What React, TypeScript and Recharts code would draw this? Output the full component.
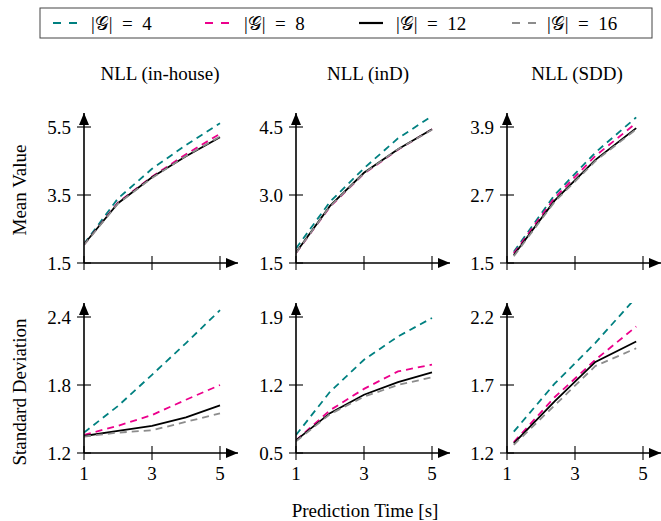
import React from 'react';
import { LineChart, Line, XAxis, YAxis } from 'recharts';

// ---- data ----
const timeSteps = [1, 2, 3, 4, 5];
const timeStepsSDD = [1.2, 2.4, 3.6, 4.8];
const xTicks = [1, 3, 5];
const groupSizes = [4, 8, 12, 16];
const panelTitles = ['NLL (in-house)', 'NLL (inD)', 'NLL (SDD)'];
const rowLabels = ['Mean Value', 'Standard Deviation'];
const xAxisLabel = 'Prediction Time [s]';

// Mean value, in-house
const meanInHouseG4 = [2.06, 3.4, 4.27, 4.97, 5.61];
const meanInHouseG8 = [2.04, 3.28, 4.04, 4.7, 5.3];
const meanInHouseG12 = [2.05, 3.26, 4.02, 4.64, 5.2];
const meanInHouseG16 = [2.03, 3.25, 4.0, 4.65, 5.22];
// Mean value, inD
const meanInDG4 = [1.82, 2.85, 3.59, 4.25, 4.74];
const meanInDG8 = [1.72, 2.74, 3.47, 4.0, 4.45];
const meanInDG12 = [1.73, 2.76, 3.49, 4.01, 4.45];
const meanInDG16 = [1.72, 2.75, 3.48, 4.01, 4.44];
// Mean value, SDD
const meanSDDG4 = [1.7, 2.7, 3.45, 4.07];
const meanSDDG8 = [1.67, 2.65, 3.39, 3.97];
const meanSDDG12 = [1.64, 2.6, 3.32, 3.88];
const meanSDDG16 = [1.62, 2.58, 3.3, 3.86];
// Std deviation, in-house
const stdInHouseG4 = [1.38, 1.615, 1.89, 2.17, 2.46];
const stdInHouseG8 = [1.36, 1.44, 1.535, 1.67, 1.8];
const stdInHouseG12 = [1.35, 1.395, 1.44, 1.515, 1.62];
const stdInHouseG16 = [1.345, 1.38, 1.4, 1.475, 1.55];
// Std deviation, inD
const stdInDG4 = [0.685, 1.13, 1.46, 1.7, 1.89];
const stdInDG8 = [0.63, 0.94, 1.16, 1.34, 1.41];
const stdInDG12 = [0.63, 0.91, 1.1, 1.23, 1.33];
const stdInDG16 = [0.62, 0.9, 1.08, 1.2, 1.28];
// Std deviation, SDD
const stdSDDG4 = [1.357, 1.71, 2.01, 2.345];
const stdSDDG8 = [1.28, 1.61, 1.885, 2.13];
const stdSDDG12 = [1.27, 1.58, 1.87, 2.02];
const stdSDDG16 = [1.26, 1.55, 1.84, 1.97];

// y tick labels per panel
const yTicksMeanInHouse = [1.5, 3.5, 5.5];
const yTicksMeanInD = [1.5, 3.0, 4.5];
const yTicksMeanSDD = [1.5, 2.7, 3.9];
const yTicksStdInHouse = [1.2, 1.8, 2.4];
const yTicksStdInD = [0.5, 1.2, 1.9];
const yTicksStdSDD = [1.2, 1.7, 2.2];

// ---- styles ----
const FONT = "'Liberation Serif', 'Times New Roman', serif";
const FS = 19;
const seriesStyle = [
  { key: 'g4', color: '#008080', dash: '7 5' },
  { key: 'g8', color: '#EC008C', dash: '7 5' },
  { key: 'g12', color: '#000000', dash: undefined },
  { key: 'g16', color: '#8c8c8c', dash: '7 5' },
];

const build = (times: number[], s: number[][]) =>
  times.map((t, i) => ({ t, g4: s[0][i], g8: s[1][i], g12: s[2][i], g16: s[3][i] }));

const panels = [
  { row: 0, col: 0, data: build(timeSteps, [meanInHouseG4, meanInHouseG8, meanInHouseG12, meanInHouseG16]), yTicks: yTicksMeanInHouse },
  { row: 0, col: 1, data: build(timeSteps, [meanInDG4, meanInDG8, meanInDG12, meanInDG16]), yTicks: yTicksMeanInD },
  { row: 0, col: 2, data: build(timeStepsSDD, [meanSDDG4, meanSDDG8, meanSDDG12, meanSDDG16]), yTicks: yTicksMeanSDD },
  { row: 1, col: 0, data: build(timeSteps, [stdInHouseG4, stdInHouseG8, stdInHouseG12, stdInHouseG16]), yTicks: yTicksStdInHouse },
  { row: 1, col: 1, data: build(timeSteps, [stdInDG4, stdInDG8, stdInDG12, stdInDG16]), yTicks: yTicksStdInD },
  { row: 1, col: 2, data: build(timeStepsSDD, [stdSDDG4, stdSDDG8, stdSDDG12, stdSDDG16]), yTicks: yTicksStdSDD },
];

const colAxisX = [84, 296, 507];
const rowArrowTop = [113, 303];
const PLOT = 136; // tick span in px
const EXT_X = 18;
const EXT_Y = 14;
const YW = 55; // y axis width
const XH = 35; // x axis height
const M = { top: 10, right: 4, left: 5, bottom: 5 };
const CW = M.left + YW + PLOT + EXT_X + M.right;
const CH = M.top + PLOT + EXT_Y + XH + M.bottom;

const YTick = (props: any) => {
  const { x, y, payload } = props;
  return (
    <g>
      <line x1={x - 7} x2={x + 7} y1={y} y2={y} stroke="#000" strokeWidth={1.1} />
      <text x={x - 13} y={y} dy="0.35em" textAnchor="end" fontFamily={FONT} fontSize={FS} fill="#000">
        {Number(payload.value).toFixed(1)}
      </text>
    </g>
  );
};

const XTick = (props: any) => {
  const { x, y, payload, showLabel } = props;
  return (
    <g>
      <line x1={x} x2={x} y1={y - 7} y2={y + 7} stroke="#000" strokeWidth={1.1} />
      {showLabel ? (
        <text x={x} y={y + 20} dy="0.35em" textAnchor="middle" fontFamily={FONT} fontSize={FS} fill="#000">
          {payload.value}
        </text>
      ) : null}
    </g>
  );
};

const Panel = ({ p }: { p: (typeof panels)[number] }) => {
  const yMin = p.yTicks[0];
  const yMax = p.yTicks[p.yTicks.length - 1];
  const yTop = yMax + ((yMax - yMin) * EXT_Y) / PLOT;
  const xRight = 5 + (4 * EXT_X) / PLOT;
  const showLabel = p.row === 1;
  return (
    <div
      style={{
        position: 'absolute',
        left: colAxisX[p.col] - M.left - YW,
        top: rowArrowTop[p.row] - M.top,
        width: CW,
        height: CH,
      }}
    >
      <LineChart width={CW} height={CH} data={p.data} margin={M}>
        <XAxis
          dataKey="t"
          type="number"
          domain={[1, xRight]}
          allowDataOverflow
          ticks={xTicks}
          interval={0}
          height={XH}
          tickSize={0}
          tickMargin={0}
          tickLine={false}
          axisLine={{ stroke: '#000', strokeWidth: 1.6, markerEnd: 'url(#arrowHead)' } as any}
          tick={(tp: any) => <XTick {...tp} showLabel={showLabel} />}
        />
        <YAxis
          type="number"
          domain={[yMin, yTop]}
          allowDataOverflow
          ticks={p.yTicks}
          interval={0}
          width={YW}
          tickSize={0}
          tickMargin={0}
          tickLine={false}
          axisLine={{ stroke: '#000', strokeWidth: 1.6, markerStart: 'url(#arrowHead)' } as any}
          tick={(tp: any) => <YTick {...tp} />}
        />
        {seriesStyle.map((s) => (
          <Line
            key={s.key}
            type="linear"
            dataKey={s.key}
            stroke={s.color}
            strokeWidth={1.8}
            strokeDasharray={s.dash}
            dot={false}
            activeDot={false}
            isAnimationActive={false}
          />
        ))}
      </LineChart>
    </div>
  );
};

const legendSample = [14, 166, 320, 473];
const legendText = [52, 205, 357, 508];

export default function App() {
  const titleX = [160, 368, 577];
  return (
    <div
      style={{
        position: 'absolute',
        left: 0,
        top: 0,
        width: 661,
        height: 521,
        overflow: 'hidden',
        background: '#fff',
        fontFamily: FONT,
      }}
    >
      <svg width={0} height={0} style={{ position: 'absolute' }}>
        <defs>
          <marker
            id="arrowHead"
            viewBox="0 0 12 10"
            refX={12}
            refY={5}
            markerWidth={12}
            markerHeight={10}
            markerUnits="userSpaceOnUse"
            orient="auto-start-reverse"
          >
            <path d="M0,0 L12,5 L0,10 z" fill="#000" />
          </marker>
        </defs>
      </svg>

      {/* legend */}
      <svg width={614} height={32} style={{ position: 'absolute', left: 39, top: 7 }}>
        <rect x={1} y={1} width={612} height={30} fill="#fff" stroke="#444" strokeWidth={1} />
        {seriesStyle.map((s, i) => (
          <g key={s.key}>
            <line
              x1={legendSample[i]}
              x2={legendSample[i] + 24}
              y1={16}
              y2={16}
              stroke={s.color}
              strokeWidth={2.2}
              strokeDasharray={s.dash ? '8 8' : undefined}
            />
            <text x={legendText[i]} y={16} dy="0.35em" fontFamily={FONT} fontSize={FS} fill="#000">
              {`|𝒢|\u2002=\u2002${groupSizes[i]}`}
            </text>
          </g>
        ))}
      </svg>

      {panelTitles.map((t, i) => (
        <div
          key={t}
          style={{
            position: 'absolute',
            left: titleX[i] - 90,
            width: 180,
            top: 63,
            textAlign: 'center',
            fontSize: FS,
            lineHeight: '22px',
          }}
        >
          {t}
        </div>
      ))}

      {rowLabels.map((t, i) => (
        <div
          key={t}
          style={{
            position: 'absolute',
            left: 20 - 100,
            top: [190, 392][i] - 11,
            width: 200,
            height: 22,
            lineHeight: '22px',
            textAlign: 'center',
            fontSize: FS,
            transform: 'rotate(-90deg)',
          }}
        >
          {t}
        </div>
      ))}

      {panels.map((p, i) => (
        <Panel key={i} p={p} />
      ))}

      <div
        style={{
          position: 'absolute',
          left: 265,
          width: 200,
          top: 500,
          textAlign: 'center',
          fontSize: FS,
          lineHeight: '22px',
        }}
      >
        {xAxisLabel}
      </div>
    </div>
  );
}
